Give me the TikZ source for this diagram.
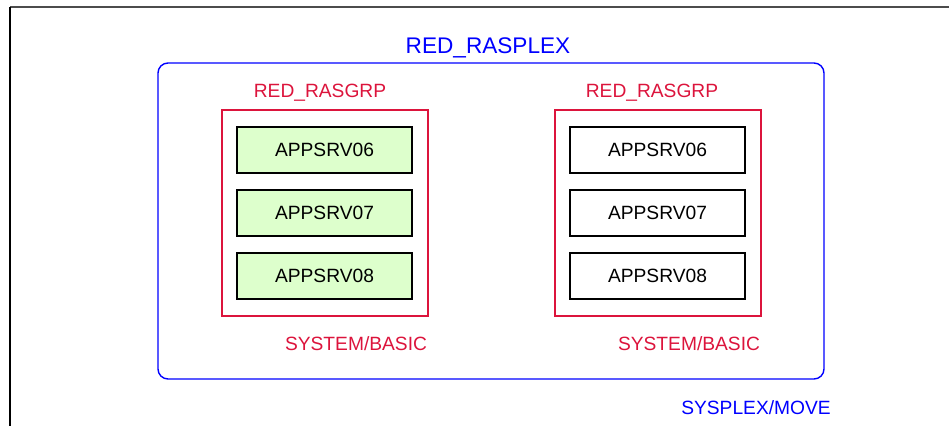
\documentclass[tikz,border=0pt]{standalone}
\usepackage{fontspec}
\setmainfont{Liberation Sans}
\definecolor{plexblue}{RGB}{0,0,255}
\definecolor{grpred}{RGB}{220,20,60}
\definecolor{srvgreen}{RGB}{221,255,204}
\tikzset{
  srv/.style={draw=black, line width=0.6pt, minimum width=87.5pt, minimum height=23pt,
    inner sep=0pt, font=\fontsize{9.6}{11}\selectfont},
  srvon/.style={srv, fill=srvgreen},
  grpbox/.style={draw=grpred, line width=0.6pt, minimum width=103pt, minimum height=103pt, inner sep=0pt},
  redlabel/.style={text=grpred, anchor=base, inner sep=0pt, font=\fontsize{9.6}{11}\selectfont},
  bluelabel/.style={text=plexblue, anchor=base, inner sep=0pt, font=\fontsize{9.6}{11}\selectfont}
}
\begin{document}
\begin{tikzpicture}[x=0.5pt, y=-0.5pt]
  \useasboundingbox (0,0) rectangle (949,426);
  %frame
  \draw[gray!60!black, line width=1pt] (10,7) -- (949,7);
  \draw[black, line width=0.6pt] (10,7) -- (10,426);

  %sysplex
  \node[draw=plexblue, line width=0.7pt, rounded corners=5pt, minimum width=333pt, minimum height=158pt]
    (plex) at (491,221) {};
  \node[bluelabel, font=\fontsize{11.3}{13}\selectfont] (plexname) at (488,54) {RED\_RASPLEX};
  \node[bluelabel] (plexmove) at (756,415) {SYSPLEX/MOVE};

  %left group
  \node[grpbox] (grpL) at (325,213) {};
  \node[redlabel] (grpLname) at (320,98) {RED\_RASGRP};
  \node[redlabel] (grpLsys) at (356,351) {SYSTEM/BASIC};
  \node[srvon] (srvL6) at (324.5,150) {APPSRV06};
  \node[srvon] (srvL7) at (324.5,213) {APPSRV07};
  \node[srvon] (srvL8) at (324.5,276) {APPSRV08};

  %right group
  \node[grpbox, draw=grpred] (grpR) at (658,213) {};
  \node[redlabel] (grpRname) at (652,98) {RED\_RASGRP};
  \node[redlabel] (grpRsys) at (689,351) {SYSTEM/BASIC};
  \node[srv] (srvR6) at (657.5,150) {APPSRV06};
  \node[srv] (srvR7) at (657.5,213) {APPSRV07};
  \node[srv] (srvR8) at (657.5,276) {APPSRV08};
\end{tikzpicture}
\end{document}
